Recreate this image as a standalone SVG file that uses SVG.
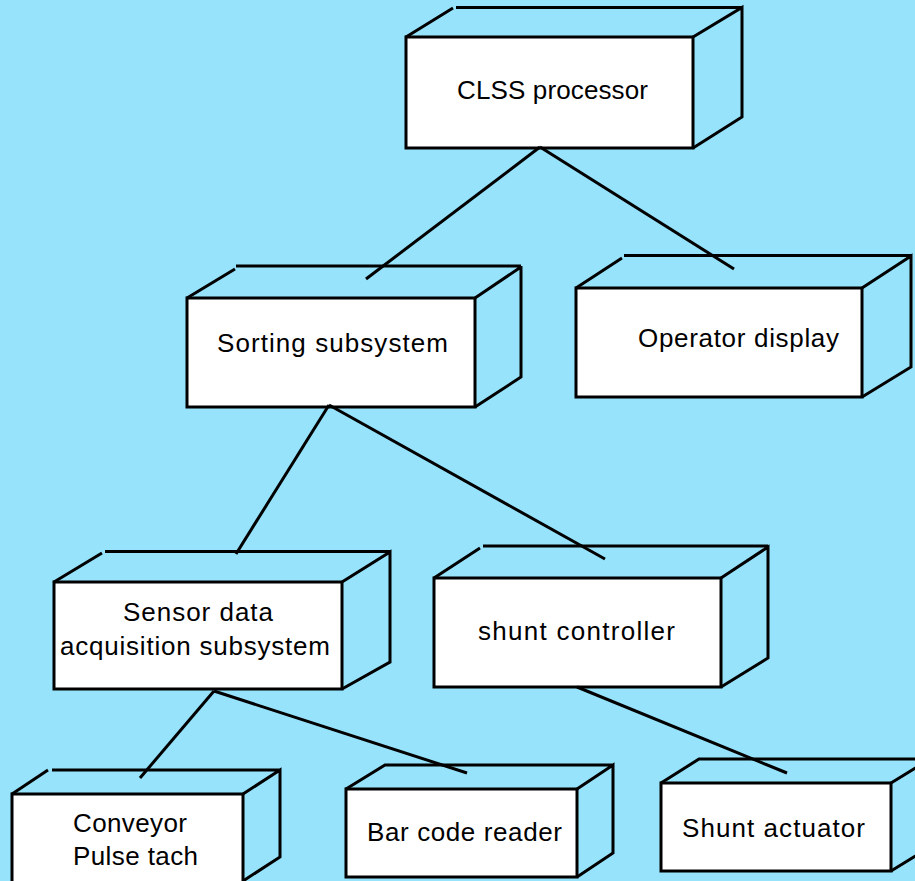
<svg xmlns="http://www.w3.org/2000/svg" width="915" height="881" viewBox="0 0 915 881">
  <style>
    .edge { fill: none; stroke: #000; stroke-width: 3; stroke-linecap: butt; stroke-linejoin: miter; }
    .face { fill: #fff; stroke: #000; stroke-width: 3; }
    .label { font-family: "Liberation Sans", Arial, sans-serif; font-size: 26px; fill: #000; }
  </style>
  <rect x="0" y="0" width="915" height="881" fill="#97E3FB"/>

  <!-- Deployment nodes: front face, top/back edges and side -->
  <g id="node-clss-processor">
    <rect class="face" x="406" y="37" width="287" height="111"/>
    <path class="edge" d="M406,37 L453,8 M456,7.5 L742,7.5 M693,37 L742,7.5 L742,117 L693,148"/>
    <text class="label" x="457" y="99" textLength="191" lengthAdjust="spacing">CLSS processor</text>
  </g>

  <g id="node-sorting-subsystem">
    <rect class="face" x="187" y="298" width="288" height="109"/>
    <path class="edge" d="M187,298 L235,269 M236,266 L521,266 M475,298 L521,267 L521,266 L521,377 L475,407"/>
    <text class="label" x="217" y="352" textLength="231" lengthAdjust="spacing">Sorting subsystem</text>
  </g>

  <g id="node-operator-display">
    <rect class="face" x="576" y="288" width="286" height="109"/>
    <path class="edge" d="M576,288 L622,258 M624,255.5 L911,255.5 M862,288 L911,256 L911,367 L862,397"/>
    <text class="label" x="638" y="347" textLength="201" lengthAdjust="spacing">Operator display</text>
  </g>

  <g id="node-sensor-data-acquisition">
    <rect class="face" x="54" y="582" width="288" height="107"/>
    <path class="edge" d="M54,582 L102,553 M105,551.5 L390,551.5 M342,582 L390,552 L390,662 L342,689"/>
    <text class="label" x="123" y="621" textLength="150" lengthAdjust="spacing">Sensor data</text>
    <text class="label" x="60" y="655" textLength="270" lengthAdjust="spacing">acquisition subsystem</text>
  </g>

  <g id="node-shunt-controller">
    <rect class="face" x="434" y="578" width="287" height="109"/>
    <path class="edge" d="M434,578 L480,548 M483,546 L768,546 M721,578 L768,547 L768,658 L721,687"/>
    <text class="label" x="478" y="640" textLength="197" lengthAdjust="spacing">shunt controller</text>
  </g>

  <g id="node-conveyor-pulse-tach">
    <rect class="face" x="12" y="794" width="231" height="100"/>
    <path class="edge" d="M12,794 L48,770 M52,770 L280,770 M243,794 L280,770 L280,857 L243,881"/>
    <text class="label" x="73" y="832" textLength="114" lengthAdjust="spacing">Conveyor</text>
    <text class="label" x="73" y="865" textLength="125" lengthAdjust="spacing">Pulse tach</text>
  </g>

  <g id="node-bar-code-reader">
    <rect class="face" x="346" y="789" width="231" height="88"/>
    <path class="edge" d="M346,789 L385,765 L613,765 M577,789 L613,765 L613,853 L577,877"/>
    <text class="label" x="367" y="841" textLength="195" lengthAdjust="spacing">Bar code reader</text>
  </g>

  <g id="node-shunt-actuator">
    <rect class="face" x="661" y="783" width="230" height="88"/>
    <path class="edge" d="M661,783 L699,759 L930,759 M891,783 L930,759 M891,871 L930,847"/>
    <text class="label" x="682" y="837" textLength="183" lengthAdjust="spacing">Shunt actuator</text>
  </g>

  <!-- Communication links -->
  <g id="connectors" class="edge">
    <path d="M540,147 L366,279"/>
    <path d="M540,147 L734,269"/>
    <path d="M329,405 L236,554"/>
    <path d="M329,405 L605,559"/>
    <path d="M214,691 L140,778"/>
    <path d="M214,691 L467,773"/>
    <path d="M577,687 L787,773"/>
  </g>
</svg>
